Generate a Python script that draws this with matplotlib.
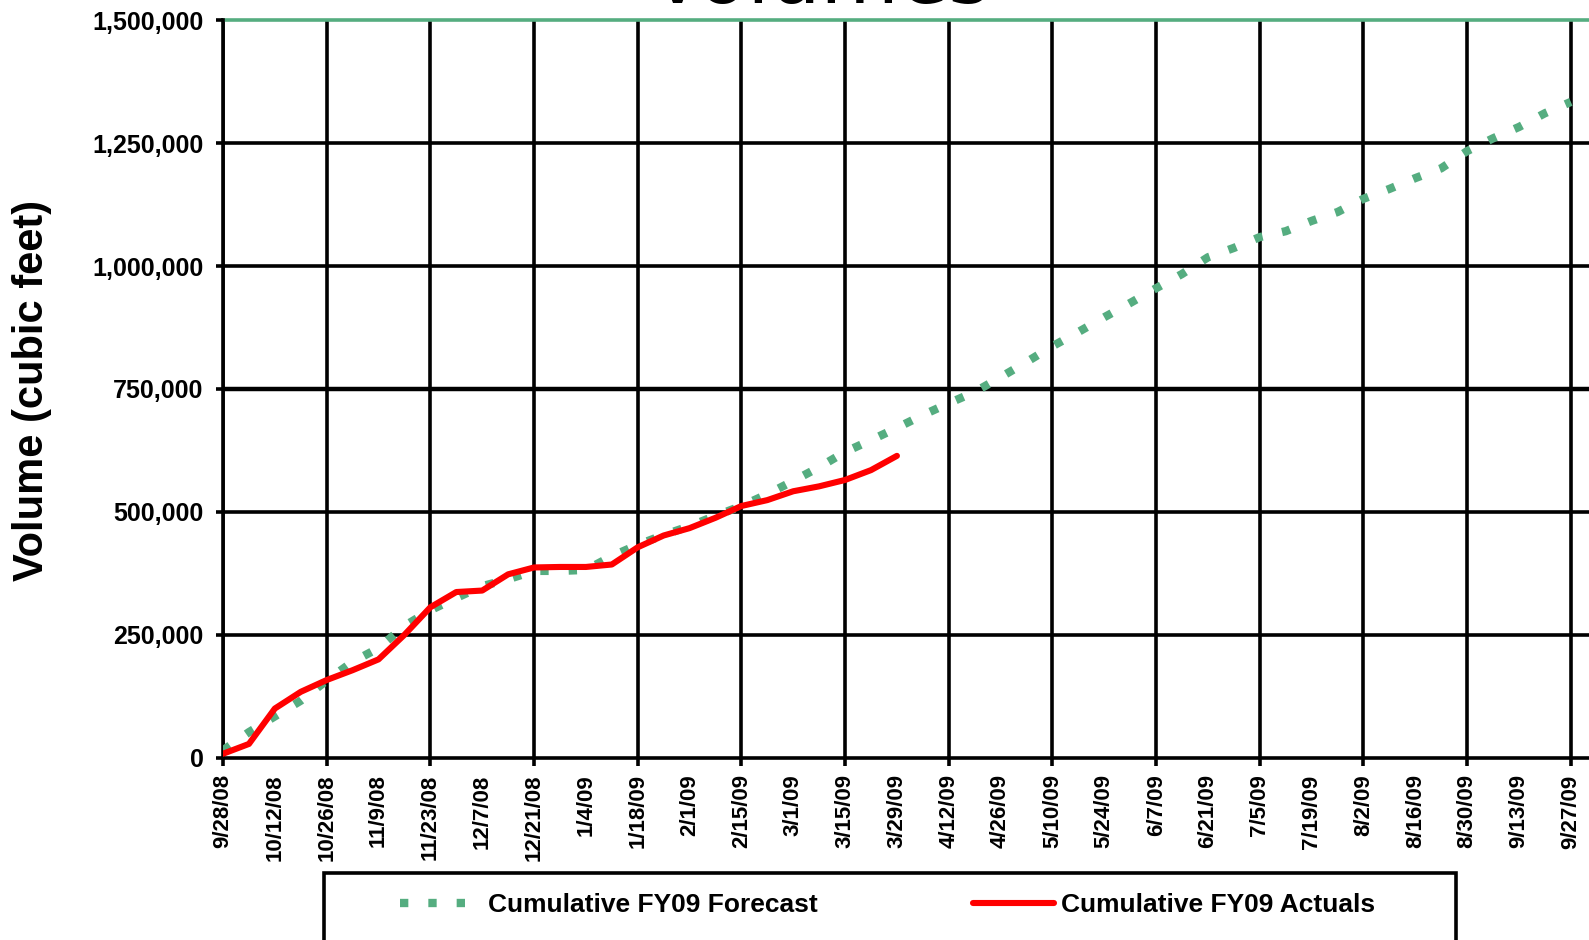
import numpy as np
import matplotlib
matplotlib.use("Agg")
import matplotlib.pyplot as plt
from matplotlib.patches import Rectangle
from matplotlib.ticker import FuncFormatter, FixedLocator

# ==============================
# DATA (weekly, cumulative cubic feet)
# ==============================
weeks = np.arange(53)

forecast = [15000, 52000, 84000, 116000, 157000, 195000, 223000, 268000, 300000,
            325000, 349000, 363000, 380000, 380000, 382000, 410000, 433000,
            453000, 471000, 492000, 512000, 536000, 563000, 591000, 622000,
            646000, 671000, 697000, 721000, 744000, 774000, 805000, 837000,
            866000, 896000, 925000, 955000, 984000, 1018000, 1037000, 1059000,
            1071000, 1092000, 1110000, 1137000, 1157000, 1179000, 1199000,
            1234000, 1260000, 1283000, 1311000, 1334000]

actuals = [8000, 28000, 100000, 134000, 158000, 178000, 200000, 250000, 306000,
           337000, 340000, 373000, 387000, 388000, 388000, 393000, 428000,
           452000, 467000, 488000, 512000, 524000, 542000, 552000, 565000,
           585000, 614000]

date_labels = ["9/28/08", "10/12/08", "10/26/08", "11/9/08", "11/23/08",
               "12/7/08", "12/21/08", "1/4/09", "1/18/09", "2/1/09", "2/15/09",
               "3/1/09", "3/15/09", "3/29/09", "4/12/09", "4/26/09", "5/10/09",
               "5/24/09", "6/7/09", "6/21/09", "7/5/09", "7/19/09", "8/2/09",
               "8/16/09", "8/30/09", "9/13/09", "9/27/09"]

y_ticks = [0, 250000, 500000, 750000, 1000000, 1250000, 1500000]

GREEN = "#55ad80"
RED = "#ff0000"
FONT = ["Liberation Sans", "DejaVu Sans"]

# ==============================
# FIGURE
# ==============================
W, H = 1589, 940
fig = plt.figure(figsize=(W / 100, H / 100), dpi=100)
ax = fig.add_axes([223 / W, (H - 757.7) / H, 1 - 223 / W, (757.7 - 20.3) / H])

ax.set_xlim(0, 52.7)
ax.set_ylim(0, 1500000)

# grid
for yv in y_ticks[1:-1]:
    ax.axhline(yv, color="black", lw=2.6 if yv != 750000 else 3.2, zorder=1)
for xv in range(0, 53, 4):
    ax.axvline(xv, color="black", lw=2.6, zorder=1)
ax.axhline(1500000, color=GREEN, lw=2.6, zorder=1, clip_on=False)

# series
ax.plot(weeks, forecast, color=GREEN, lw=6, linestyle=(0, (1, 2.4)),
        dash_capstyle="butt", label="Cumulative FY09 Forecast", zorder=3)
ax.plot(weeks[:len(actuals)], actuals, color=RED, lw=4.4,
        solid_joinstyle="round", solid_capstyle="round",
        label="Cumulative FY09 Actuals", zorder=4)

# spines
for s in ["top", "right"]:
    ax.spines[s].set_visible(False)
for s in ["left", "bottom"]:
    ax.spines[s].set_linewidth(2.6)
    ax.spines[s].set_color("black")

# y axis
ax.set_yticks(y_ticks)
ax.yaxis.set_major_formatter(FuncFormatter(lambda v, p: f"{int(v):,}"))
ax.tick_params(axis="y", direction="out", length=5, width=2.6, pad=9)
for t in ax.get_yticklabels():
    t.set_fontfamily(FONT)
    t.set_fontweight("bold")
    t.set_fontsize(18)

# x axis: ticks every 4 weeks, labels every 2 weeks
ax.xaxis.set_major_locator(FixedLocator(list(range(0, 53, 4))))
ax.xaxis.set_minor_locator(FixedLocator(list(range(2, 53, 4))))
ax.set_xticklabels([date_labels[i // 2] for i in range(0, 53, 4)])
ax.set_xticklabels([date_labels[i // 2] for i in range(2, 53, 4)], minor=True)
ax.tick_params(axis="x", which="major", direction="out", length=6, width=2.6, pad=6)
ax.tick_params(axis="x", which="minor", length=0, pad=12)
for t in ax.get_xticklabels() + ax.get_xticklabels(minor=True):
    t.set_rotation(90)
    t.set_va("top")
    t.set_ha("center")
    t.set_fontfamily(FONT)
    t.set_fontweight("bold")
    t.set_fontsize(16)

# axis title
fig.text(32 / W, 1 - 390 / H, "Volume (cubic feet)", rotation=90,
         ha="center", va="center", fontsize=30, fontweight="bold",
         family=FONT)

# chart title (mostly cut off at the top, as in the original)
fig.text(820 / W, 1 - 3 / H, "Volumes", ha="center", va="baseline",
         fontsize=58, family="DejaVu Sans")

# legend box running off the bottom
fig.patches.append(Rectangle((324 / W, -0.05), (1456 - 324) / W, 0.05 + (H - 873) / H,
                             transform=fig.transFigure, fill=False,
                             edgecolor="black", lw=2.6, zorder=5))
leg = fig.legend(loc="center left", bbox_to_anchor=(400 / W, 1 - 905 / H),
                 ncol=2, frameon=False, borderpad=0, borderaxespad=0,
                 handlelength=3.07, handletextpad=0.25, columnspacing=5.9,
                 prop={"family": FONT, "weight": "bold", "size": 19})

fig.savefig("out.png", dpi=100)
